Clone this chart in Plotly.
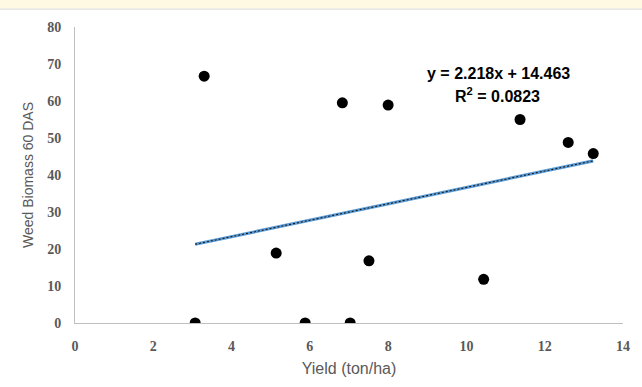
import plotly.graph_objects as go

# Data
yield_ton_ha = [3.07, 3.30, 5.14, 5.88, 6.83, 7.03, 7.51, 8.00, 10.44, 11.37, 12.60, 13.24]
weed_biomass = [0.0, 66.7, 18.9, 0.0, 59.5, 0.0, 16.8, 58.9, 11.8, 55.0, 48.8, 45.8]
trend_slope = 2.218
trend_intercept = 14.463
r_squared = 0.0823
x_ticks = [0, 2, 4, 6, 8, 10, 12, 14]
y_ticks = [0, 10, 20, 30, 40, 50, 60, 70, 80]

x_min, x_max = min(yield_ton_ha), max(yield_ton_ha)
trend_x = [x_min, x_max]
trend_y = [trend_slope * v + trend_intercept for v in trend_x]

fig = go.Figure()
fig.add_trace(go.Scatter(x=trend_x, y=trend_y, mode="lines",
                         line=dict(color="#5B9BD5", width=3.2), hoverinfo="skip"))
fig.add_trace(go.Scatter(x=trend_x, y=trend_y, mode="lines",
                         line=dict(color="#1a1a1a", width=1.1, dash="2px,2px"), hoverinfo="skip"))
fig.add_trace(go.Scatter(x=yield_ton_ha, y=weed_biomass, mode="markers",
                         marker=dict(color="black", size=11)))

tick_font = dict(family="Liberation Serif", size=14, color="#595959", weight="bold")
eq_font = dict(family="Liberation Sans", size=16, color="black", weight="bold")

fig.update_layout(
    width=642, height=387,
    margin=dict(l=75, r=16, t=27, b=62),
    paper_bgcolor="white", plot_bgcolor="white",
    showlegend=False,
    xaxis=dict(range=[0, 14], tickvals=x_ticks, showgrid=False, zeroline=False,
               showline=True, linecolor="#BFBFBF", linewidth=1,
               tickfont=tick_font, ticks="", ticklabelstandoff=10,
               title=dict(text="Yield (ton/ha)",
                          font=dict(family="Liberation Sans", size=16, color="#595959"),
                          standoff=10)),
    yaxis=dict(range=[0, 80], tickvals=y_ticks, showgrid=False, zeroline=False,
               showline=True, linecolor="#BFBFBF", linewidth=1,
               tickfont=tick_font, ticks="", ticklabelstandoff=10,
               title=dict(text="Weed Biomass 60 DAS",
                          font=dict(family="Liberation Sans", size=14, color="#595959"),
                          standoff=10)),
    shapes=[
        dict(type="rect", xref="paper", yref="paper", x0=-0.2, x1=1.1,
             y0=1 + 18.5 / 298, y1=1 + 30 / 298, fillcolor="#FFF9E3", line_width=0, layer="below"),
        dict(type="line", xref="paper", yref="paper", x0=-0.2, x1=1.1,
             y0=1 + 18 / 298, y1=1 + 18 / 298, line=dict(color="#D9D9D9", width=1)),
    ],
    annotations=[
        dict(x=10.82, y=67.4, xref="x", yref="y", showarrow=False,
             text=f"y = {trend_slope}x + {trend_intercept}", font=eq_font),
        dict(x=10.8, y=61.5, xref="x", yref="y", showarrow=False,
             text=f"R<sup>2</sup> = {r_squared}", font=eq_font),
    ],
)

fig.write_html("out.html", config={"displayModeBar": False},
               post_script="document.body.style.margin='0';document.body.style.padding='0';")
